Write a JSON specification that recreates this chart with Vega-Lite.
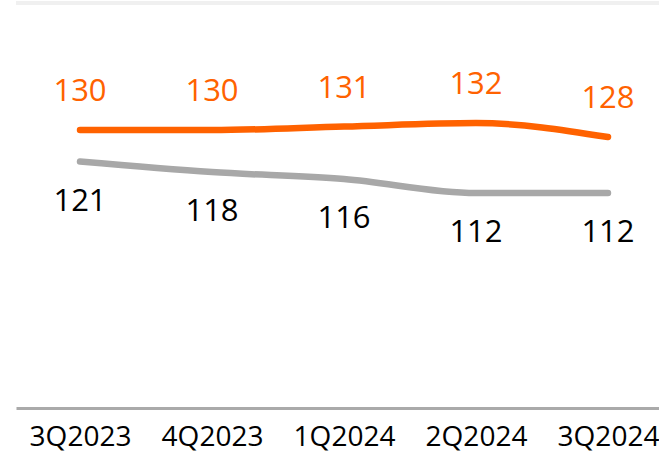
{
  "$schema": "https://vega.github.io/schema/vega-lite/v6.json",
  "width": 656,
  "height": 405,
  "autosize": {"type": "none"},
  "padding": {"left": 16, "top": 3, "right": 0, "bottom": 50},
  "background": "white",
  "config": {"view": {"stroke": null}, "font": "Open Sans"},
  "data": {
    "values": [
      {"q": "3Q2023", "series": "A", "v": 130},
      {"q": "4Q2023", "series": "A", "v": 130},
      {"q": "1Q2024", "series": "A", "v": 131},
      {"q": "2Q2024", "series": "A", "v": 132},
      {"q": "3Q2024", "series": "A", "v": 128},
      {"q": "3Q2023", "series": "B", "v": 121},
      {"q": "4Q2023", "series": "B", "v": 118},
      {"q": "1Q2024", "series": "B", "v": 116},
      {"q": "2Q2024", "series": "B", "v": 112},
      {"q": "3Q2024", "series": "B", "v": 112}
    ]
  },
  "encoding": {
    "x": {
      "field": "q", "type": "ordinal", "sort": null,
      "scale": {"type": "point", "padding": 0.485},
      "axis": {
        "title": null, "ticks": false, "grid": false,
        "domainColor": "#aaaaaa", "domainWidth": 3,
        "labelAngle": 0, "labelFontSize": 28, "labelColor": "#000000",
        "labelPadding": 15, "labelFont": "Open Sans"
      }
    },
    "y": {
      "field": "v", "type": "quantitative",
      "scale": {"domain": [50.6, 166.3], "nice": false, "zero": false},
      "axis": null
    }
  },
  "layer": [
    {
      "mark": {"type": "rule", "color": "#f0f0f0", "strokeWidth": 3},
      "encoding": {"y": {"datum": 166.3}, "x": null}
    },
    {
      "mark": {"type": "line", "interpolate": "monotone", "strokeWidth": 6.5, "strokeCap": "round"},
      "encoding": {
        "color": {
          "field": "series", "type": "nominal",
          "scale": {"domain": ["A", "B"], "range": ["#ff6200", "#a8a8a8"]},
          "legend": null
        }
      }
    },
    {
      "transform": [{"filter": "datum.series === 'A'"}],
      "mark": {"type": "text", "dy": -38, "fontSize": 31, "color": "#ff6200", "font": "Open Sans"},
      "encoding": {"text": {"field": "v", "type": "quantitative"}}
    },
    {
      "transform": [{"filter": "datum.series === 'B'"}],
      "mark": {"type": "text", "dy": 40, "fontSize": 31, "color": "#000000", "font": "Open Sans"},
      "encoding": {"text": {"field": "v", "type": "quantitative"}}
    }
  ]
}
